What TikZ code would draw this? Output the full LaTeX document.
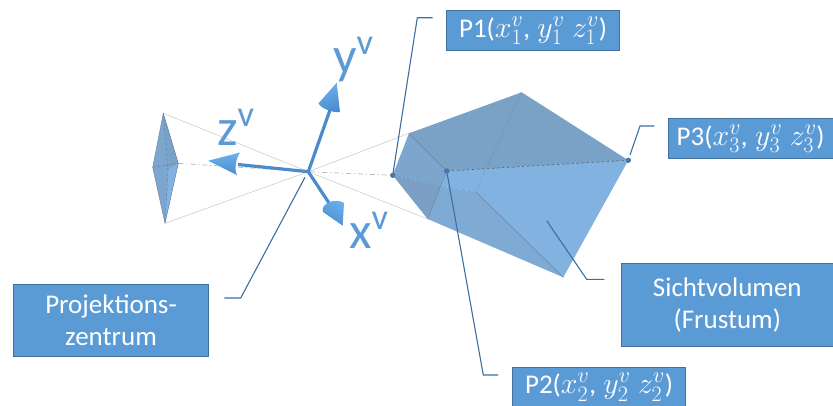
\RequirePackage{fix-cm}
\documentclass[tikz,border=0pt]{standalone}
\usepackage{fontspec}
\setmainfont{Carlito}
\DeclareMathSizes{27}{30}{22}{16}
\definecolor{boxfill}{HTML}{5B9BD5}
\definecolor{boxline}{HTML}{41719C}
\definecolor{leader}{HTML}{3B6FA3}
\definecolor{fTop}{HTML}{7AA1C6}
\definecolor{fLeft}{HTML}{7DA6CF}
\definecolor{fLow}{HTML}{7C9FC6}
\definecolor{fMid}{HTML}{7FAAD4}
\definecolor{fFront}{HTML}{82B2E0}
\definecolor{axisblue}{HTML}{6CB2EE}
\definecolor{axisdark}{HTML}{4A8CCB}
\tikzset{
  infobox/.style={draw=boxline,line width=0.9pt,fill=boxfill,text=white,inner sep=0pt,align=center,font=\fontsize{27}{32}\selectfont},
  leaderline/.style={draw=leader,line width=1.1pt},
  corner/.style={circle,fill=boxfill!80!black,draw=leader,line width=0.6pt,minimum size=4.5pt,inner sep=0pt},
  edgeline/.style={draw=fLow!75!black,line width=0.35pt},
  hidden/.style={draw=fLow!55!black,line width=0.5pt,densely dashed},
  sight/.style={draw=black!22,line width=0.5pt},
  center/.style={draw=black!40,line width=0.5pt,dash pattern=on 5pt off 3pt on 1pt off 3pt},
  axisshaft/.style={draw=axisdark,line width=3.2pt},
  axislabel/.style={text=boxfill,font=\fontsize{52}{52}\selectfont,inner sep=0pt,anchor=base west}
}
\begin{document}
\begin{tikzpicture}[x=1pt,y=-1pt]
\useasboundingbox (0,0) rectangle (833,405);
% named geometry
\coordinate (o) at (308.3,171.7);
\coordinate (ftop) at (163.3,113.3);
\coordinate (fbot) at (165,223.3);
\coordinate (fl) at (152.7,167.3);
\coordinate (fr) at (178.3,163.3);
\coordinate (A) at (392.7,175.3);
\coordinate (B) at (409,133.3);
\coordinate (C) at (521.7,92.3);
\coordinate (D) at (628.3,160.3);
\coordinate (E) at (563.3,277.3);
\coordinate (F) at (427.7,219);
\coordinate (G) at (446.7,171);
\coordinate (H) at (476,192);
\coordinate (I) at (441,186.5);
\coordinate (J) at (486,169);
% sight lines
\draw[sight] (ftop) -- (o) -- (B);
\draw[sight] (fbot) -- (o) -- (F);
\draw[center] (fr) -- (o) -- (A);
% small frustum
\fill[fLeft] (ftop) -- (fr) -- (fbot) -- (fl) -- cycle;
\fill[fTop] (ftop) -- (fr) -- (170,165) -- cycle;
\fill[fFront] (fr) -- (fbot) -- (168,170) -- cycle;
\draw[edgeline] (ftop) -- (fr) -- (fbot) -- (fl) -- cycle;
\draw[edgeline,densely dashed] (ftop) -- (168,170) -- (fbot) (fl) -- (fr);
% main frustum
\fill[fLeft] (A) -- (B) -- (G) -- (I) -- cycle;
\fill[fLow] (A) -- (I) -- (F) -- cycle;
\fill[fTop] (B) -- (C) -- (D) -- (G) -- cycle;
\fill[fMid] (I) -- (H) -- (E) -- (F) -- cycle;
\fill[fFront] (G) -- (D) -- (E) -- (H) -- (I) -- cycle;
\draw[edgeline] (B) -- (G) -- (F);
\draw[edgeline,densely dotted] (C) -- (J) -- (H);
\draw[edgeline,densely dotted] (A) -- (I) -- (H);
\draw[edgeline] (H) -- (E);
\draw[hidden] (G) -- (D);
\draw[center] (A) -- (G);
% axes
\coordinate (yend) at (330,110);
\coordinate (zend) at (238,164.5);
\coordinate (xend) at (331,206);
\draw[axisshaft] (o) -- (yend);
\draw[axisshaft] (o) -- (zend);
\draw[axisshaft] (o) -- (xend);
\shade[left color=axisblue,right color=axisdark,shading angle=20]
  (336.7,82.7) -- (318.5,103.3) .. controls (321,109) and (334,113) .. (340,112) -- cycle;
\shade[top color=axisblue,bottom color=axisdark]
  (208.3,160.7) -- (240,152.5) .. controls (236,158) and (234,170) .. (237,175) -- cycle;
\shade[left color=axisblue,right color=axisdark,shading angle=-30]
  (342.7,225.7) -- (323,212) .. controls (320,204) and (335,197) .. (344,203) -- cycle;
\node[axislabel] (ylab) at (333,73) {y\textsuperscript{v}};
\node[axislabel] (zlab) at (217,145) {z\textsuperscript{v}};
\node[axislabel] (xlab) at (349,248) {x\textsuperscript{v}};
% corner points
\node[corner] (p1) at (A) {};
\node[corner] (p2) at (G) {};
\node[corner] (p3) at (D) {};
% text boxes
\node[infobox,minimum width=172.6pt,minimum height=40pt] (b1) at (533,30.7) {P1($x_1^v$,\;$y_1^v$\;$z_1^v$)};
\node[infobox,minimum width=164.7pt,minimum height=40pt] (b3) at (750.7,138.7) {P3($x_3^v$,\;$y_3^v$\;$z_3^v$)};
\node[infobox,minimum width=173.4pt,minimum height=40pt] (b2) at (599,387.3) {P2($x_2^v$,\;$y_2^v$\;$z_2^v$)};
\node[infobox,minimum width=211.4pt,minimum height=83.7pt] (bs) at (727.3,305) {Sichtvolumen\\(Frustum)};
\node[infobox,minimum width=195.4pt,minimum height=72.4pt] (bp) at (111,320.5) {Projektions-\\zentrum};
% leader lines
\coordinate (l1a) at (417.3,17.7);
\coordinate (l1b) at (432.7,17.7);
\coordinate (l2a) at (483.3,375);
\coordinate (l2b) at (498,375);
\coordinate (l3s) at (630,155);
\coordinate (l3a) at (640,126);
\coordinate (l3b) at (654.3,126);
\coordinate (lss) at (546.7,220.7);
\coordinate (lsa) at (586.7,279.3);
\coordinate (lsb) at (604.3,279.3);
\coordinate (lps) at (305,177.3);
\coordinate (lpa) at (240.7,298);
\coordinate (lpb) at (224.3,298);
\draw[leaderline] (p1) -- (l1a) -- (l1b);
\draw[leaderline] (p2) -- (l2a) -- (l2b);
\draw[leaderline] (l3s) -- (l3a) -- (l3b);
\draw[leaderline] (lss) -- (lsa) -- (lsb);
\draw[leaderline] (lps) -- (lpa) -- (lpb);
\end{tikzpicture}
\end{document}
